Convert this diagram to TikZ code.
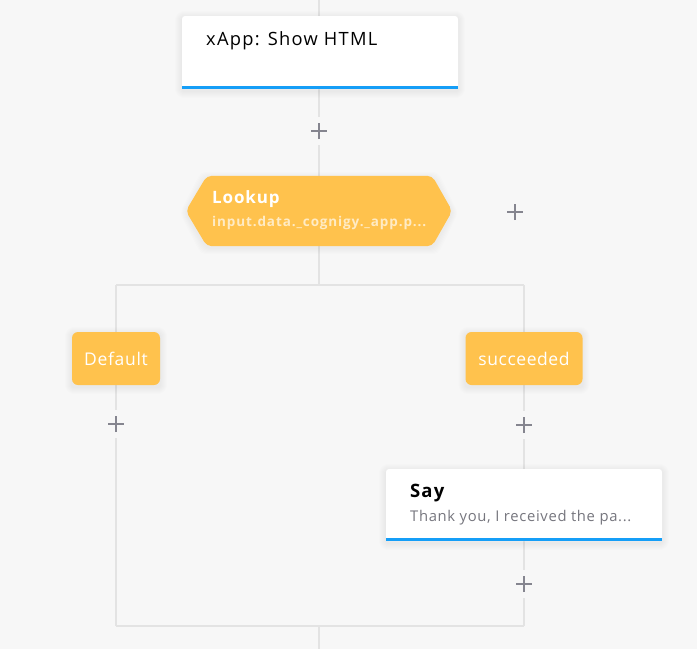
\documentclass[tikz,border=0pt]{standalone}
\usepackage{fontspec}
\setmainfont{Open Sans}
\usetikzlibrary{backgrounds}
\definecolor{bgc}{HTML}{F7F7F7}
\definecolor{linec}{HTML}{E3E3E3}
\definecolor{plusc}{HTML}{85858F}
\definecolor{orangec}{HTML}{FFC24D}
\definecolor{bluec}{HTML}{159EF7}
\definecolor{subc}{HTML}{76767E}
\definecolor{lsubc}{HTML}{FFEBC4}
\newcommand{\lsp}[1]{\addfontfeatures{LetterSpace=#1}}
\begin{document}
\begin{tikzpicture}[x=1pt,y=-1pt,
  conn/.style={draw=linec, line width=2pt},
  card/.style={fill=white, rounded corners=3pt, minimum width=276pt, minimum height=73pt, inner sep=0pt},
  badge/.style={fill=orangec, rounded corners=6pt, minimum height=53pt, inner sep=0pt, text=white},
  pluss/.style={minimum size=28pt, inner sep=0pt, path picture={
      \draw[plusc, line width=2pt]
        ([xshift=-8pt]path picture bounding box.center) -- ([xshift=8pt]path picture bounding box.center)
        ([yshift=-8pt]path picture bounding box.center) -- ([yshift=8pt]path picture bounding box.center);}},
  title/.style={anchor=west, inner sep=0pt},
  sub/.style={anchor=west, inner sep=0pt}
]
\useasboundingbox (0,0) rectangle (697,649);

% nodes
\node[card] (show) at (320,52.5) {};
\node[pluss] (p1) at (319,131) {};
\node[minimum width=266pt, minimum height=70pt, inner sep=0pt] (lookup) at (319,211) {};
\node[pluss] (pr) at (515,212) {};
\coordinate (top) at (319,0);
\coordinate (br) at (319,285);
\coordinate (brl) at (116,285);
\coordinate (brr) at (524,285);
\node[badge, minimum width=88pt, font=\fontsize{17.5}{19}\selectfont\lsp{4}] (def) at (116,358.5) {Default};
\node[badge, minimum width=117pt, font=\fontsize{17.5}{19}\selectfont\lsp{3.2}] (succ) at (524,358.5) {succeeded};
\node[pluss] (p2) at (116,424) {};
\node[pluss] (p3) at (524,425) {};
\node[card, minimum height=72pt] (say) at (524,505) {};
\node[pluss] (p4) at (524,584) {};
\coordinate (jl) at (116,626);
\coordinate (jr) at (524,626);
\coordinate (jm) at (319,626);
\coordinate (bot) at (319,649);

\begin{pgfonlayer}{background}
\fill[bgc] (0,0) rectangle (697,649);
\draw[conn] (top) -- (top |- show.north);
\draw[conn] (p1 |- show.south) -- (p1.north);
\draw[conn] (p1.south) -- (lookup.north);
\draw[conn] (lookup.south) -- (br);
\draw[conn] (brl) -- (brr);
\draw[conn] (brl) -- (def.north);
\draw[conn] (brr) -- (succ.north);
\draw[conn] (def.south) -- (p2.north);
\draw[conn] (p2.south) -- (jl);
\draw[conn] (succ.south) -- (p3.north);
\draw[conn] (p3.south) -- (say.north);
\draw[conn] (say.south) -- (p4.north);
\draw[conn] (p4.south) -- (jr);
\draw[conn] (jl) -- (jr);
\draw[conn] (jm) -- (bot);
% soft shadows
\foreach \n in {show,say,def,succ}{
  \foreach \s in {1,...,7}{
    \fill[black, opacity=0.008, rounded corners=3pt+\s pt]
      ([xshift=-\s pt, yshift=-\s pt-2pt]\n.south west) rectangle ([xshift=\s pt, yshift=\s pt-2pt]\n.north east);
  }
}
\foreach \s in {1,...,6}{
  \fill[black, opacity=0.008, rounded corners=5pt]
    ([xshift=-\s pt,yshift=-2pt]lookup.west) -- ([xshift=21pt-\s pt,yshift=\s pt-2pt]lookup.north west) -- ([xshift=-20pt+\s pt,yshift=\s pt-2pt]lookup.north east) -- ([xshift=\s pt,yshift=-2pt]lookup.east) -- ([xshift=-20pt+\s pt,yshift=-\s pt-2pt]lookup.south east) -- ([xshift=21pt-\s pt,yshift=-\s pt-2pt]lookup.south west) -- cycle;
}
\end{pgfonlayer}

% card details
\fill[bluec] ([yshift=3.5pt]show.south west) rectangle (show.south east);
\node[title, font=\fontsize{18.3}{20}\selectfont\lsp{7}] (showt) at (206,41) {xApp: Show HTML};

\fill[orangec, rounded corners=5pt]
  (lookup.west) -- ([xshift=21pt]lookup.north west) -- ([xshift=-20pt]lookup.north east) -- (lookup.east) -- ([xshift=-20pt]lookup.south east) -- ([xshift=21pt]lookup.south west) -- cycle;
\node[title, text=white, font=\fontsize{17}{18}\selectfont\bfseries\lsp{5}] (lt) at (212,199) {Lookup};
\node[sub, text=lsubc, font=\fontsize{13.5}{15}\selectfont\bfseries\lsp{6.5}] (ls) at (212,222.5) {input.data.\_cognigy.\_app.p...};

\fill[bluec] ([yshift=3.5pt]say.south west) rectangle (say.south east);
\node[title, font=\fontsize{18.5}{20}\selectfont\bfseries\lsp{6}] (sayt) at (410,493) {Say};
\node[sub, text=subc, font=\fontsize{14.8}{16}\selectfont\lsp{4.5}] (says) at (410,517.5) {Thank you, I received the pa...};
\end{tikzpicture}
\end{document}
